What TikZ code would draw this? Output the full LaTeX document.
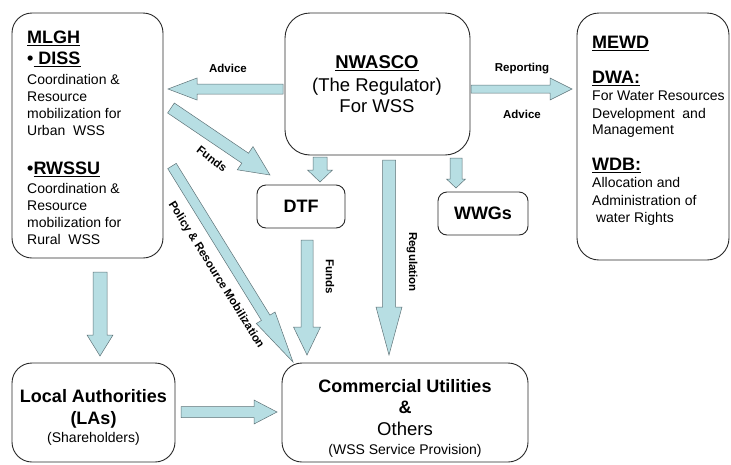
\documentclass[tikz,border=0pt]{standalone}
\usepackage{fontspec}
\setmainfont{Liberation Sans}
\usetikzlibrary{calc}
\definecolor{arrowfill}{RGB}{183,222,227}
\definecolor{arrowline}{RGB}{95,115,120}
\definecolor{boxline}{RGB}{40,40,40}
\newcommand\HdrFont{\fontsize{18}{21}\selectfont\bfseries}
\newcommand\HdrReg{\fontsize{18.5}{22}\selectfont}
\newcommand\BodyFont{\fontsize{14}{17}\selectfont}
\newcommand\LblFont{\fontsize{11.5}{13}\selectfont\bfseries}
\newcommand\BlockArrow[5]{%
  \coordinate (ba-base) at ($(#2)!#5!(#1)$);
  \draw[blockarrow] ($(#1)!#3!90:(#2)$) -- ($(ba-base)!#3!90:(#2)$) -- ($(ba-base)!#4!90:(#2)$) -- (#2) -- ($(ba-base)!#4!-90:(#2)$) -- ($(ba-base)!#3!-90:(#2)$) -- ($(#1)!#3!-90:(#2)$) -- cycle;}
\tikzset{
  box/.style={draw=boxline, line width=0.9pt, rounded corners=20pt, inner sep=0pt, outer sep=0pt, fill=white},
  smallbox/.style={draw=boxline, line width=0.9pt, rounded corners=9pt, inner sep=0pt, outer sep=0pt, fill=white, font=\HdrFont},
  blockarrow/.style={draw=arrowline, line width=0.5pt, fill=arrowfill, line join=miter},
  txtL/.style={inner sep=0pt, anchor=base west},
  txtC/.style={inner sep=0pt, anchor=base},
  lbl/.style={inner sep=0pt, font=\LblFont}
}
\begin{document}
\begin{tikzpicture}[x=1pt,y=-1pt]
\useasboundingbox (0,0) rectangle (731,464);
\fill[white] (0,0) rectangle (731,464);

% ---------- boxes ----------
\node[box, minimum width=151pt, minimum height=245pt] (mlgh) at (87.5,135.5) {};
\node[box, rounded corners=25pt, minimum width=185pt, minimum height=142pt] (nwasco) at (377.5,84) {};
\node[box, rounded corners=22pt, minimum width=152pt, minimum height=247pt] (mewd) at (653,136.5) {};
\node[smallbox, minimum width=88pt, minimum height=43pt] (dtf) at (301,206.5) {DTF};
\node[smallbox, minimum width=90pt, minimum height=43pt] (wwgs) at (483,213.5) {WWGs};
\node[box, minimum width=163pt, minimum height=99pt] (la) at (93.5,412.5) {};
\node[box, minimum width=246pt, minimum height=99pt] (cu) at (405,412.5) {};

% ---------- MLGH text ----------
\node[txtL, font=\HdrFont] (mlgh1) at (27,43.5) {\underline{MLGH}};
\node[txtL, font=\HdrFont] (mlgh2) at (27,64.5) {•\underline{\ DISS}};
\node[txtL, font=\BodyFont] (mlgh3) at (27,84.5) {Coordination \&};
\node[txtL, font=\BodyFont] (mlgh4) at (27,101.5) {Resource};
\node[txtL, font=\BodyFont] (mlgh5) at (27,118.5) {mobilization for};
\node[txtL, font=\BodyFont] (mlgh6) at (27,135.5) {Urban\ \ WSS};
\node[txtL, font=\HdrFont] (mlgh7) at (27,174.5) {•\underline{RWSSU}};
\node[txtL, font=\BodyFont] (mlgh8) at (27,193.5) {Coordination \&};
\node[txtL, font=\BodyFont] (mlgh9) at (27,210.5) {Resource};
\node[txtL, font=\BodyFont] (mlgh10) at (27,227.5) {mobilization for};
\node[txtL, font=\BodyFont] (mlgh11) at (27,244.5) {Rural\ \ WSS};

% ---------- NWASCO text ----------
\node[txtC, font=\HdrReg\bfseries] (nw1) at (377,68.5) {\underline{NWASCO}};
\node[txtC, font=\HdrReg] (nw2) at (377,91.5) {(The Regulator)};
\node[txtC, font=\HdrReg] (nw3) at (377,112.5) {For WSS};

% ---------- MEWD text ----------
\node[txtL, font=\HdrFont] (me1) at (592,48.5) {\underline{MEWD}};
\node[txtL, font=\HdrFont] (me2) at (592,83.5) {\underline{DWA:}};
\node[txtL, font=\BodyFont] (me3) at (592,100.5) {For Water Resources};
\node[txtL, font=\BodyFont] (me4) at (592,118) {Development\ \ and};
\node[txtL, font=\BodyFont] (me5) at (592,134.5) {Management};
\node[txtL, font=\HdrFont] (me6) at (592,170.5) {\underline{WDB:}};
\node[txtL, font=\BodyFont] (me7) at (592,187.5) {Allocation and};
\node[txtL, font=\BodyFont] (me8) at (592,205.5) {Administration of};
\node[txtL, font=\BodyFont] (me9) at (592,222.5) {\ water Rights};

% ---------- LA text ----------
\node[txtC, font=\HdrFont] (la1) at (93.5,402.5) {Local Authorities};
\node[txtC, font=\HdrFont] (la2) at (93.5,424) {(LAs)};
\node[txtC, font=\BodyFont] (la3) at (93.5,442) {(Shareholders)};

% ---------- CU text ----------
\node[txtC, font=\HdrFont] (cu1) at (405,392.5) {Commercial Utilities};
\node[txtC, font=\HdrFont] (cu2) at (405,413.5) {\&};
\node[txtC, font=\HdrReg] (cu3) at (405,435.5) {Others};
\node[txtC, font=\BodyFont] (cu4) at (405,454) {(WSS Service Provision)};

% ---------- arrow end points ----------
\coordinate (advT) at (283,89);   \coordinate (advH) at (168,89);
\coordinate (repT) at (471,89);   \coordinate (repH) at (572,89);
\coordinate (fdT) at (171,108);   \coordinate (fdH) at (270,175);
\coordinate (polT) at (172,166);  \coordinate (polH) at (293,362);
\coordinate (ndT) at (320,157);   \coordinate (ndH) at (320,182);
\coordinate (nwT) at (456,158);   \coordinate (nwH) at (456,188);
\coordinate (regT) at (389,160);  \coordinate (regH) at (389,355);
\coordinate (dcT) at (307,240);   \coordinate (dcH) at (307,355);
\coordinate (mlT) at (100,272);   \coordinate (mlH) at (100,356);
\coordinate (lcT) at (181,412);   \coordinate (lcH) at (277,412);

% ---------- block arrows ----------
\BlockArrow{advT}{advH}{5pt}{11pt}{29pt}
\BlockArrow{repT}{repH}{4pt}{11pt}{22pt}
\BlockArrow{fdT}{fdH}{6pt}{14pt}{30pt}
\BlockArrow{polT}{polH}{5pt}{11pt}{52pt}
\BlockArrow{ndT}{ndH}{7pt}{12.5pt}{12pt}
\BlockArrow{nwT}{nwH}{6pt}{9.5pt}{9pt}
\BlockArrow{regT}{regH}{6.5pt}{13pt}{48pt}
\BlockArrow{dcT}{dcH}{6pt}{13.5pt}{28pt}
\BlockArrow{mlT}{mlH}{7pt}{13pt}{21pt}
\BlockArrow{lcT}{lcH}{5.5pt}{12pt}{23pt}

% ---------- arrow labels ----------
\node[lbl] (lAdvL) at (228,68) {Advice};
\node[lbl] (lRep) at (522,69) {Reporting};
\node[lbl] (lAdvR) at (522,114) {Advice};
\node[lbl, rotate=-38] (lFunds1) at (212,159) {Funds};
\node[lbl, rotate=-58] (lPol) at (216,275) {Policy \& Resource Mobilization};
\node[lbl, rotate=-90] (lFunds2) at (330,277) {Funds};
\node[lbl, rotate=-90] (lReg) at (412,262) {Regulation};
\end{tikzpicture}
\end{document}
